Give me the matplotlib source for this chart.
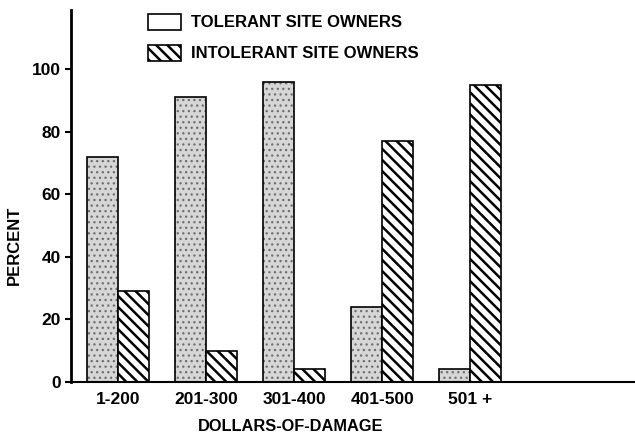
import numpy as np
import matplotlib.pyplot as plt
from matplotlib.patches import Patch

categories = ["1-200", "201-300", "301-400", "401-500", "501 +"]
tolerant = [72, 91, 96, 24, 4]
intolerant = [29, 10, 4, 77, 95]

plt.rcParams['font.family'] = ['Liberation Sans', 'DejaVu Sans']
plt.rcParams['font.weight'] = 'bold'

fig = plt.figure(figsize=(6.35, 4.34), dpi=100)
ax = fig.add_axes([0.112, 0.12, 0.888, 0.857])

x = np.arange(len(categories))
w = 0.35
# stippled fill (grey speckle), then black outline on top
plt.rcParams['hatch.linewidth'] = 0.9
ax.bar(x - w/2, tolerant, w, facecolor='#d6d6d6', edgecolor='#6e6e6e', linewidth=0,
       hatch='...')
ax.bar(x - w/2, tolerant, w, facecolor='none', edgecolor='black', linewidth=1.2)
plt.rcParams['hatch.linewidth'] = 1.8
ax.bar(x + w/2, intolerant, w, facecolor='white', edgecolor='black', linewidth=1.2,
       hatch='\\\\\\')

ax.set_xlim(-0.53, 5.87)
ax.set_ylim(0, 119)
ax.set_yticks([0, 20, 40, 60, 80, 100])
ax.set_xticks(x)
ax.set_xticklabels(categories)
ax.tick_params(axis='x', length=0, labelsize=12.5, pad=7)
ax.tick_params(axis='y', direction='out', length=4, width=1.5, labelsize=12.5)
ax.spines['top'].set_visible(False)
ax.spines['right'].set_visible(False)
ax.spines['left'].set_linewidth(2)
ax.spines['bottom'].set_linewidth(1.5)

ax.set_xlabel("DOLLARS-OF-DAMAGE", fontsize=11.8, fontweight='bold')
ax.set_ylabel("PERCENT", fontsize=12, fontweight='bold')
ax.xaxis.set_label_coords(0.39, -0.1)
ax.yaxis.set_label_coords(-0.087, 0.368)

handles = [Patch(facecolor='white', edgecolor='black', linewidth=1.2,
                 label='TOLERANT SITE OWNERS'),
           Patch(facecolor='white', edgecolor='black', linewidth=1.2, hatch='\\\\\\',
                 label='INTOLERANT SITE OWNERS')]
ax.legend(handles=handles, loc='upper left', bbox_to_anchor=(0.11, 1.03), frameon=False,
          fontsize=12, handlelength=2.0, handleheight=1.1, labelspacing=0.85,
          handletextpad=0.6)

fig.savefig("out.png", dpi=100)
